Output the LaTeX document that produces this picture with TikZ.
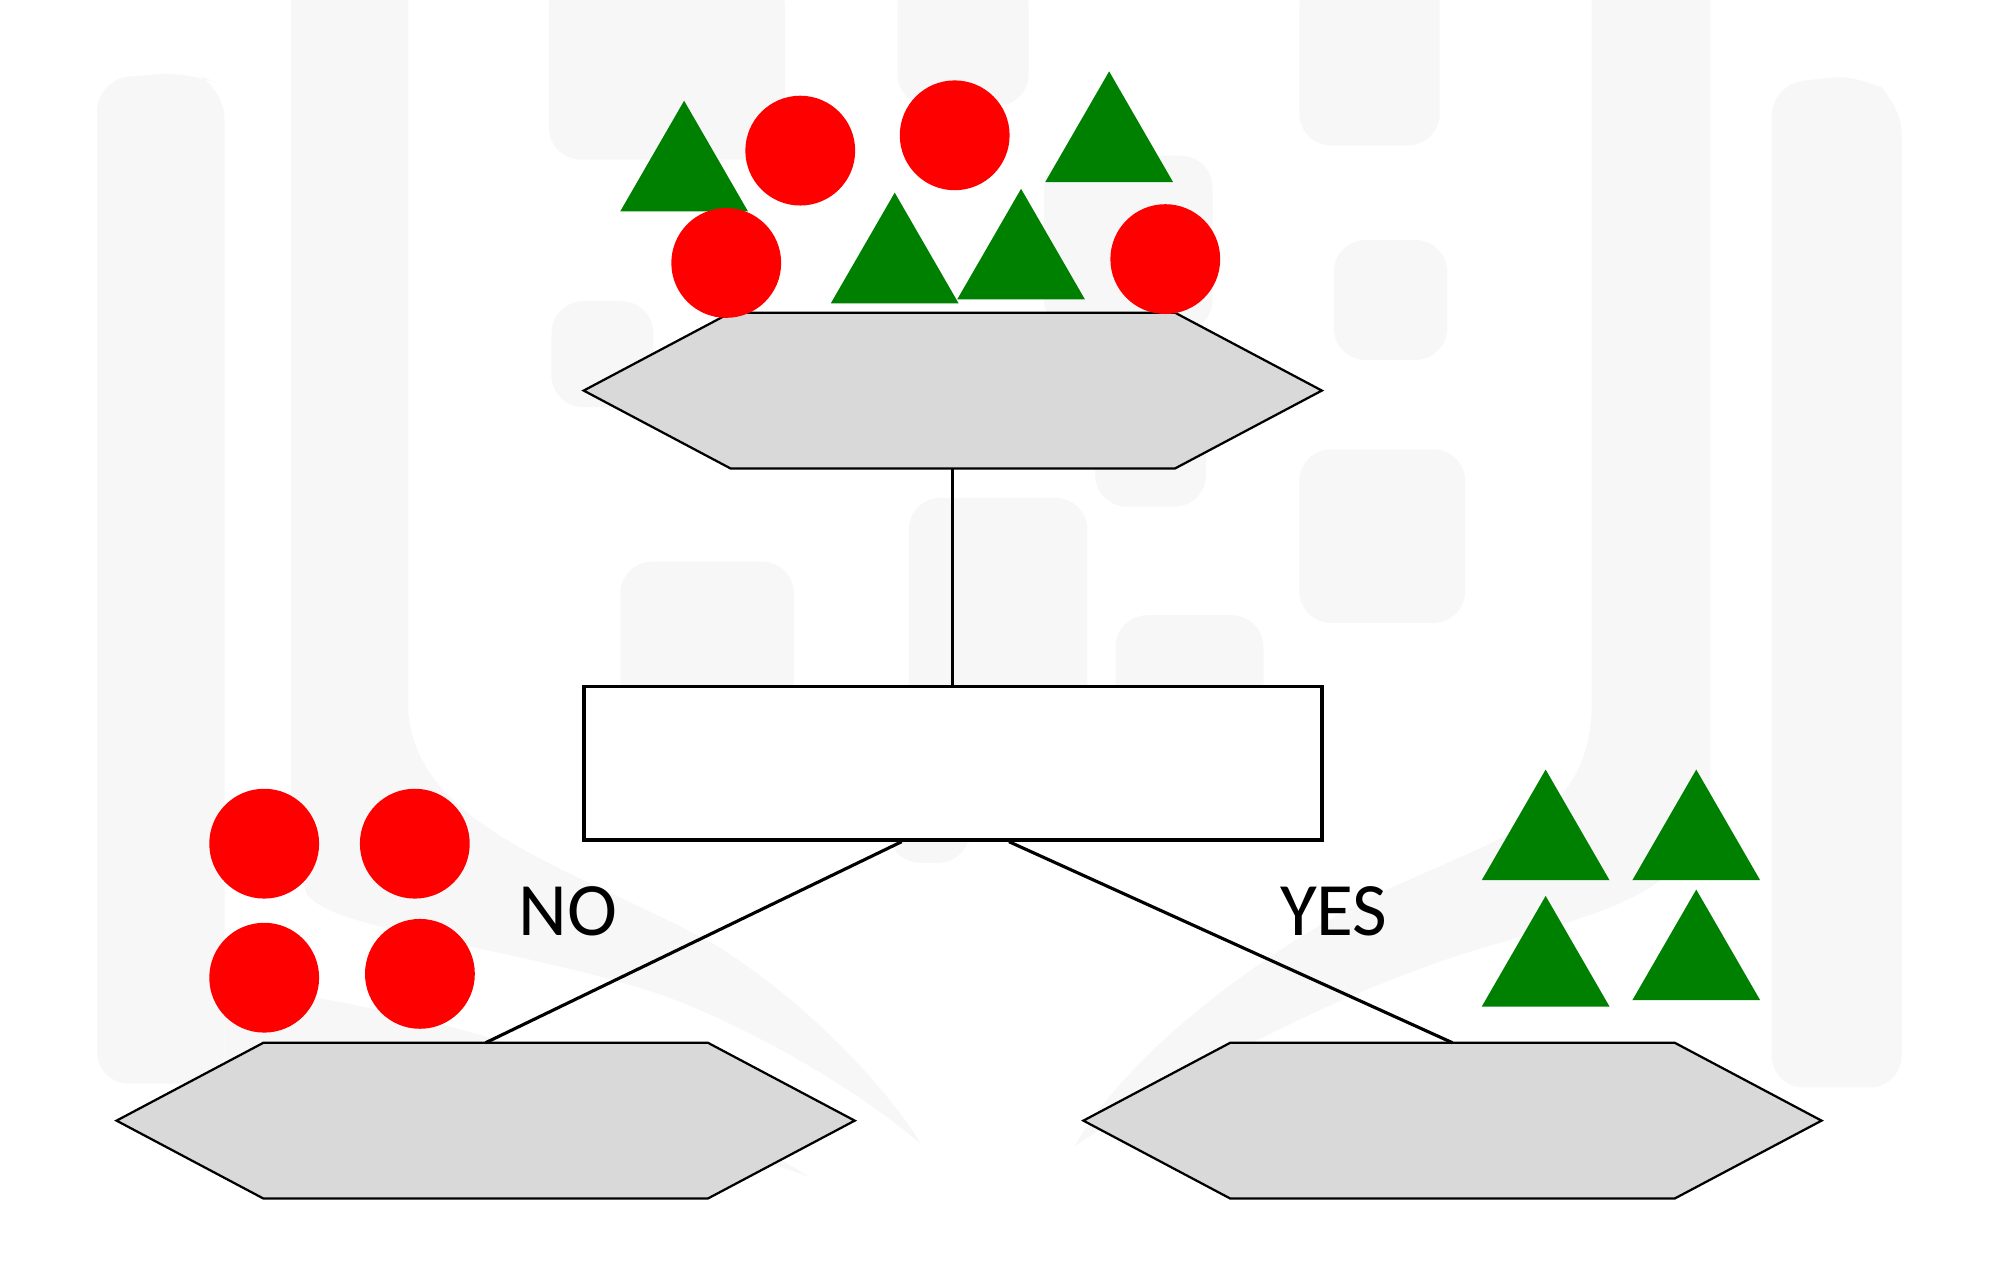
\documentclass[tikz,border=0pt]{standalone}
\usepackage{fontspec}
\setmainfont{Carlito}
\usetikzlibrary{shapes.geometric}
\definecolor{wmgray}{HTML}{F7F7F7}
\definecolor{hexgray}{HTML}{D9D9D9}
\definecolor{ballred}{HTML}{FF0000}
\definecolor{treegreen}{HTML}{008000}
\tikzset{
  hexbox/.style={rectangle, minimum width=5.78cm, minimum height=1.22cm, inner sep=0pt, outer sep=0pt},
  hexline/.style={draw=black, fill=hexgray, line width=0.5pt},
  testbox/.style={rectangle, minimum width=5.78cm, minimum height=1.2cm, inner sep=0pt, draw, fill=white, line width=0.8pt},
  ball/.style={circle, fill=ballred, minimum size=0.86cm, inner sep=0pt},
  tree/.style={regular polygon, regular polygon sides=3, fill=treegreen, minimum size=1.155cm, inner sep=0pt},
  link/.style={line width=0.7pt},
  answer/.style={font=\fontsize{16.8}{19}\selectfont},
  wm/.style={fill=wmgray, rounded corners=0.25cm}
}
\begin{document}
\begin{tikzpicture}[x=0.01cm,y=-0.01cm]
\useasboundingbox (0,0) rectangle (1567,1002);
% faint logo behind
\fill[wm] (76,62) -- (150,56) -- (176,68) -- (176,849) -- (76,849) -- cycle;
\fill[wm] (430,-20) rectangle (615,125);
\fill[wm] (703,-20) rectangle (806,83);
\fill[wm] (1018,-20) rectangle (1128,114);
\fill[wm] (432,236) rectangle (512,319);
\fill[wm] (486,440) rectangle (622,560);
\fill[wm] (712,390) rectangle (852,560);
\fill[wm] (696,640) rectangle (760,676);
\fill[wm] (818,122) rectangle (950,260);
\fill[wm] (858,240) rectangle (945,397);
\fill[wm] (874,482) rectangle (990,560);
\fill[wm] (1045,188) rectangle (1134,282);
\fill[wm] (1018,352) rectangle (1148,488);
\fill[wm] (1388,66) -- (1460,58) -- (1490,80) -- (1490,852) -- (1388,852) -- cycle;
\fill[wmgray] (228,-20) -- (320,-20) -- (320,560) .. controls (330,650) and (450,680) .. (560,740)
  .. controls (640,790) and (700,860) .. (722,897) .. controls (680,860) and (600,810) .. (520,780)
  .. controls (400,740) and (260,730) .. (240,700) -- (228,660) -- cycle;
\fill[wmgray] (176,772) .. controls (350,790) and (520,850) .. (634,922)
  .. controls (560,895) and (400,860) .. (176,850) -- cycle;
\fill[wmgray] (1247,-20) -- (1340,-20) -- (1340,620) .. controls (1335,700) and (1250,715) .. (1178,738)
  .. controls (1060,770) and (930,840) .. (842,898) .. controls (880,830) and (980,750) .. (1080,700)
  .. controls (1190,650) and (1240,640) .. (1247,560) -- cycle;
% tree
\node[hexbox] (root) at (746.5,306) {};
\node[testbox] (test) at (746.5,598) {};
\node[hexbox] (noleaf) at (380.5,878) {};
\node[hexbox] (yesleaf) at (1138,878) {};
\foreach \n in {root,noleaf,yesleaf}
  \path[hexline] (\n.west) -- ([xshift=1.15cm]\n.north west) -- ([xshift=-1.15cm]\n.north east)
    -- (\n.east) -- ([xshift=-1.15cm]\n.south east) -- ([xshift=1.15cm]\n.south west) -- cycle;
\draw[link] (root.south) -- (test.north);
\draw[link] ([xshift=-0.4cm]test.south) -- (noleaf.north);
\draw[link] ([xshift=0.44cm]test.south) -- (yesleaf.north);
\node[answer] (nolabel) at (445,714) {NO};
\node[answer] (yeslabel) at (1045,714) {YES};
% samples
\foreach \x/\y [count=\i] in {536/136.7, 869/113.7, 701/208.7, 800/205.7}
  \node[tree] (top tree \i) at (\x,\y) {};
\foreach \x/\y [count=\i] in {627/118, 748/106, 569/206, 913/203}
  \node[ball] (top ball \i) at (\x,\y) {};
\foreach \x/\y [count=\i] in {207/661, 325/661, 207/766, 329/763}
  \node[ball] (no ball \i) at (\x,\y) {};
\foreach \x/\y [count=\i] in {1211/660.7, 1329/660.7, 1211/759.7, 1329/754.7}
  \node[tree] (yes tree \i) at (\x,\y) {};
\end{tikzpicture}
\end{document}
